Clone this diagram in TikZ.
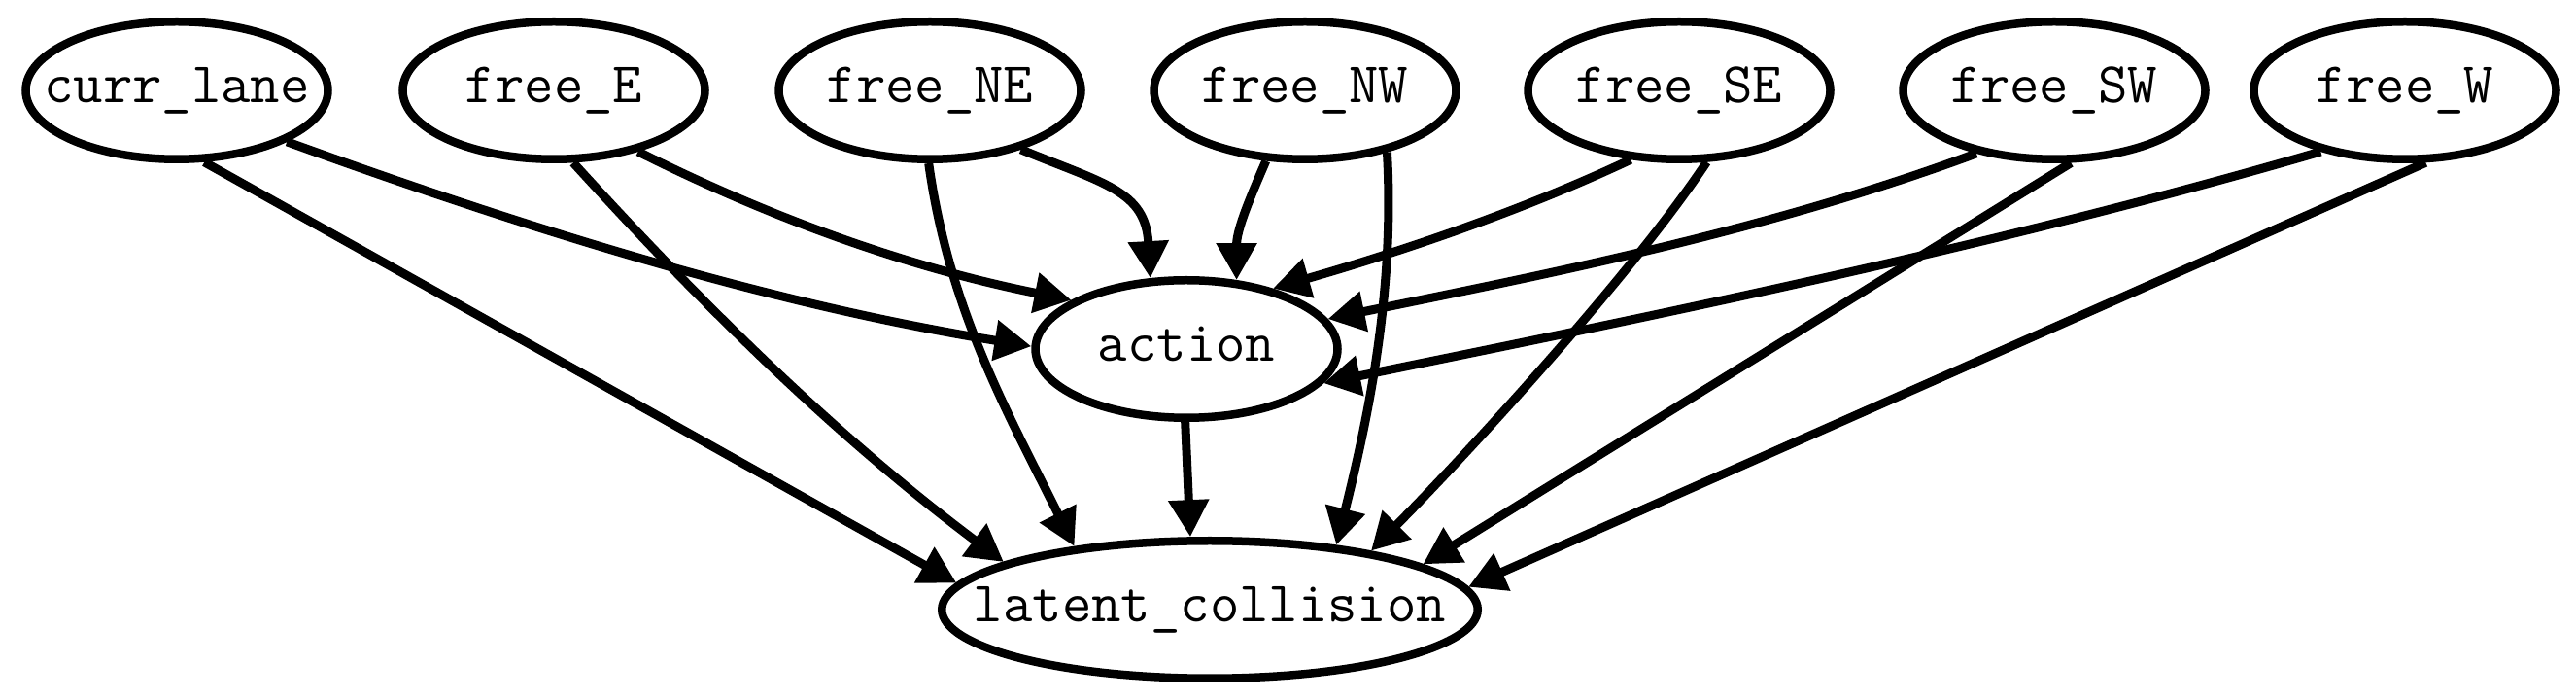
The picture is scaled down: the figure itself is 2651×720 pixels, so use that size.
\documentclass[tikz,border=0pt]{standalone}
\usetikzlibrary{shapes.geometric,arrows.meta}
\newcommand\gvlabel[1]{\makebox[0pt]{#1}}
\begin{document}
\begin{tikzpicture}[x=1pt,y=1pt,
  gnode/.style={draw, line width=8.5pt, ellipse, inner sep=0pt,
    minimum width=311pt, minimum height=141.5pt,
    text height=26pt, text depth=0pt,
    font=\fontsize{59}{66}\selectfont\ttfamily},
  widenode/.style={gnode, minimum width=551.5pt},
  edge/.style={line width=9pt, -{Triangle[length=38pt,width=40pt]}}]
\useasboundingbox (0,0) rectangle (2651,720);
\node[gnode] (curr) at (182,627) {\gvlabel{curr\_lane}};
\node[gnode] (fE) at (570,627) {\gvlabel{free\_E}};
\node[gnode] (fNE) at (957,627) {\gvlabel{free\_NE}};
\node[gnode] (fNW) at (1343,627) {\gvlabel{free\_NW}};
\node[gnode] (fSE) at (1728,627) {\gvlabel{free\_SE}};
\node[gnode] (fSW) at (2114,627) {\gvlabel{free\_SW}};
\node[gnode] (fW) at (2475,627) {\gvlabel{free\_W}};
\node[gnode] (action) at (1221,361) {\gvlabel{action}};
\node[widenode] (lat) at (1245,93) {\gvlabel{latent\_collision}};

\draw[edge] (curr.-69) -- (lat.174);
\draw[edge] (curr.-25) .. controls +(254,-92) and +(-266,43) .. (action.179);
\draw[edge] (fE.-75) .. controls +(141,-155) and +(-168,126) .. (lat.167);
\draw[edge] (fE.-36) .. controls +(146,-73) and +(-160,32) .. (action.157);
\draw[edge] (fNE.-91) .. controls +(21,-150) and +(-70,140) .. (lat.155);
\draw[edge] (fNE.-33) .. controls +(85,-35) and +(-5,90) .. (action.117);
\draw[edge] (fNW.-119) .. controls +(-20,-46) and +(0,50) .. (action.54);
\draw[edge] (fNW.-37) .. controls +(8,-140) and +(34,136) .. (lat.27);
\draw[edge] (fSE.-125) .. controls +(-117,-55) and +(125,36) .. (action.35);
\draw[edge] (fSE.-69) .. controls +(-77,-116) and +(98,99) .. (lat.20);
\draw[edge] (fSW.-141) .. controls +(-216,-80) and +(225,46) .. (action.12);
\draw[edge] (fSW.-77) -- (lat.12);
\draw[edge] (fW.-144) .. controls +(-336,-98) and +(343,70) .. (action.-14);
\draw[edge] (fW.-74) -- (lat.5);
\draw[edge] (action.-91) -- (lat.105);
\end{tikzpicture}
\end{document}
